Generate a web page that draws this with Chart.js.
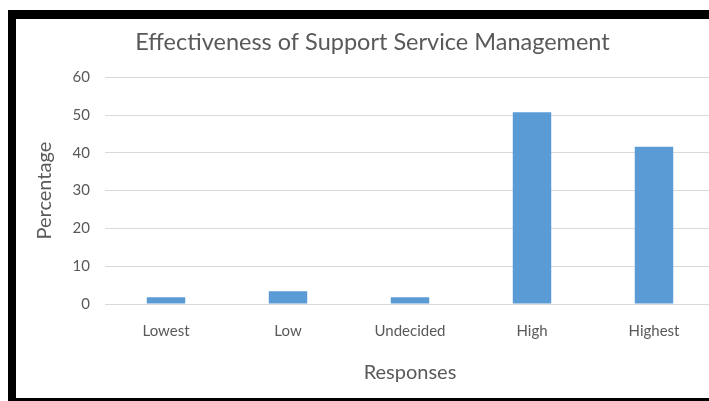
<!DOCTYPE html>
<html>
<head>
<meta charset="utf-8">
<script src="https://cdn.jsdelivr.net/npm/chart.js@4"></script>
<style>
  html, body { margin: 0; padding: 0; background: #fff; overflow: hidden; width: 709px; height: 401px; }
  #wrap { position: absolute; left: 0; top: 0; width: 709px; height: 401px; overflow: hidden; }
  canvas { position: absolute; left: 0; top: 0; }
  .b { position: absolute; background: #000; }
</style>
</head>
<body>
<div id="wrap">
  <canvas id="c" width="720" height="401" style="width:720px;height:401px"></canvas>
  <div class="b" style="left:8px; top:10px; width:701px; height:9px;"></div>
  <div class="b" style="left:8px; top:10px; width:8px; height:391px;"></div>
  <div class="b" style="left:8px; top:398px; width:701px; height:3px;"></div>
</div>
<script>
const categories = ["Lowest", "Low", "Undecided", "High", "Highest"];
const percentages = [1.8, 3.4, 1.8, 50.7, 41.6];
const yTicks = [0, 10, 20, 30, 40, 50, 60];
const chartTitle = "Effectiveness of Support Service Management";
const xTitle = "Responses";
const yTitle = "Percentage";

const FONT = "Lato, 'Open Sans', sans-serif";
const GREY = "#595959";

new Chart(document.getElementById("c"), {
  type: "bar",
  data: {
    labels: categories,
    datasets: [{
      data: percentages,
      backgroundColor: "#5b9bd5",
      borderWidth: 0,
      barPercentage: 0.63,
      categoryPercentage: 0.5
    }]
  },
  options: {
    responsive: false,
    animation: false,
    devicePixelRatio: 1,
    layout: { padding: { left: 30, top: 19, right: 5, bottom: 8 } },
    plugins: {
      legend: { display: false },
      tooltip: { enabled: false },
      title: {
        display: true,
        text: chartTitle,
        color: GREY,
        font: { family: FONT, size: 23.5, weight: "normal" },
        padding: { top: 9, bottom: 21 }
      }
    },
    scales: {
      x: {
        grid: { display: false, drawTicks: false },
        border: { display: true, color: "#d9d9d9", width: 1 },
        ticks: { color: GREY, font: { family: FONT, size: 15 }, padding: 18, maxRotation: 0 },
        title: {
          display: true, text: xTitle, color: GREY,
          font: { family: FONT, size: 20 }, padding: { top: 0, bottom: 8 }
        },
        afterFit(s) { s.height = 89; }
      },
      y: {
        min: 0, max: 60,
        afterBuildTicks(s) { s.ticks = yTicks.map(v => ({ value: v })); },
        grid: { color: "#d9d9d9", drawTicks: false },
        border: { display: false },
        ticks: { color: GREY, font: { family: FONT, size: 15 }, padding: 15 },
        title: {
          display: true, text: yTitle, color: GREY,
          font: { family: FONT, size: 20 }, padding: { top: 3, bottom: 0 }
        },
        afterFit(s) { s.width = 75; }
      }
    }
  }
});
</script>
</body>
</html>
